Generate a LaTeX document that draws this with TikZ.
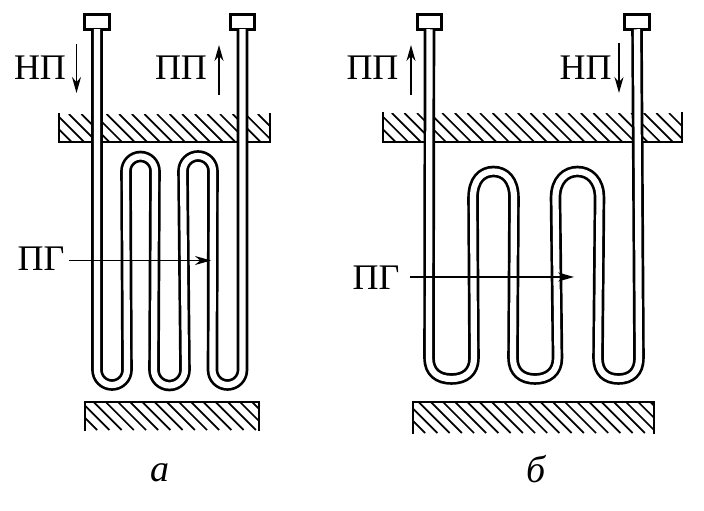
\documentclass[tikz,border=0pt]{standalone}
\usepackage{fontspec}
\setmainfont{Liberation Serif}
\usetikzlibrary{arrows.meta}
\tikzset{
  tube/.style={draw=black,line width=2.7pt,double=white,double distance=6.2pt,line join=round},
  capbox/.style={draw=black,fill=white,line width=2.6pt,minimum width=24.5pt,minimum height=14.5pt,inner sep=0pt,outer sep=0pt},
  lab/.style={font=\fontsize{36}{36}\selectfont,inner sep=0pt},
  panel/.style={font=\itshape\fontsize{38}{38}\selectfont,inner sep=0pt},
  flow/.style={line width=1.5pt,-{Stealth[length=16pt,width=9pt]}},
  hatchline/.style={line width=1.7pt},
  edge/.style={line width=2.8pt,line cap=rect}
}
\newcommand{\hatchbox}[5]{%
  \begin{scope}
    \clip (#1,#2) rectangle (#3,#4);
    \pgfmathsetmacro{\hstart}{#1-(#4-#2)}
    \pgfmathsetmacro{\hnext}{\hstart+#5}
    \foreach \hx in {\hstart,\hnext,...,#3}
      \draw[hatchline] (\hx,#2) -- ++(#4-#2,#4-#2);
  \end{scope}}
\begin{document}
\begin{tikzpicture}[x=1pt,y=-1pt]
\useasboundingbox (0,0) rectangle (704,511);
\fill[white] (0,0) rectangle (704,511);

% panel a plates
\hatchbox{59}{114}{270}{142}{12.6}
\draw[edge] (59,114) -- (59,142) -- (270,142) -- (270,114);
\hatchbox{85}{402}{259}{430}{12.2}
\draw[edge] (85,430) -- (85,402) -- (259,402) -- (259,430);

% panel b plates
\hatchbox{383}{113}{682}{142}{12.6}
\draw[edge] (383,113) -- (383,142) -- (682,142) -- (682,113);
\hatchbox{413}{402}{654}{433}{12.2}
\draw[edge] (413,433) -- (413,402) -- (654,402) -- (654,433);

% caps
\node[capbox] (capA1) at (97,22) {};
\node[capbox] (capA2) at (242.5,22) {};
\node[capbox] (capB1) at (429.5,22) {};
\node[capbox,minimum width=25pt] (capB2) at (637,22) {};

% tube a
\draw[tube] (capA1.south) -- (97,370)
  arc[start angle=180,end angle=0,radius=15]
  -- (126,171) arc[start angle=180,end angle=360,radius=14.5]
  -- (154,370) arc[start angle=180,end angle=0,radius=15.5]
  -- (183,171) arc[start angle=180,end angle=360,radius=15]
  -- (212.5,370) arc[start angle=180,end angle=0,radius=15]
  -- (capA2.south);

% tube b
\draw[tube] (capB1.south) -- (429,358)
  .. controls (429,372) and (438,379) .. (451.5,379)
  .. controls (465,379) and (474,372) .. (474,358)
  -- (473,198)
  .. controls (473,180) and (482,171.5) .. (493.5,171.5)
  .. controls (505,171.5) and (514,180) .. (514,198)
  -- (513,358)
  .. controls (513,372) and (522,379) .. (535,379)
  .. controls (548,379) and (557.5,372) .. (557.5,358)
  -- (555.5,198)
  .. controls (555.5,180) and (566,171.5) .. (577.5,171.5)
  .. controls (589,171.5) and (599.5,180) .. (599.5,198)
  -- (598,358)
  .. controls (598,372) and (606,379) .. (618.5,379)
  .. controls (631,379) and (639,372) .. (639,358)
  -- (capB2.south);

% labels
\node[lab] (npA) at (40,68) {НП};
\node[lab] (ppA) at (181,68) {ПП};
\node[lab] (pgA) at (41,259) {ПГ};
\node[lab] (ppB) at (372.5,68) {ПП};
\node[lab] (npB) at (585.5,68) {НП};
\node[lab] (pgB) at (376,278) {ПГ};
\node[panel] (panA) at (160,473) {а};
\node[panel] (panB) at (536,469) {б};

% flow arrows
\coordinate (aS) at (76.5,44);  \coordinate (aE) at (76.5,93);
\coordinate (bS) at (219,95);   \coordinate (bE) at (219,45);
\coordinate (cS) at (411,95);   \coordinate (cE) at (411,45);
\coordinate (dS) at (619,43);   \coordinate (dE) at (619,93);
\coordinate (pgAend) at (211,260.5);
\coordinate (pgBend) at (574,277);
\coordinate (pgAstart) at (69,260.5);
\coordinate (pgBstart) at (410,277);
\draw[flow] (aS) -- (aE);
\draw[flow] (bS) -- (bE);
\draw[flow] (cS) -- (cE);
\draw[flow] (dS) -- (dE);
\draw[flow] (pgAstart) -- (pgAend);
\draw[flow] (pgBstart) -- (pgBend);
\end{tikzpicture}
\end{document}
